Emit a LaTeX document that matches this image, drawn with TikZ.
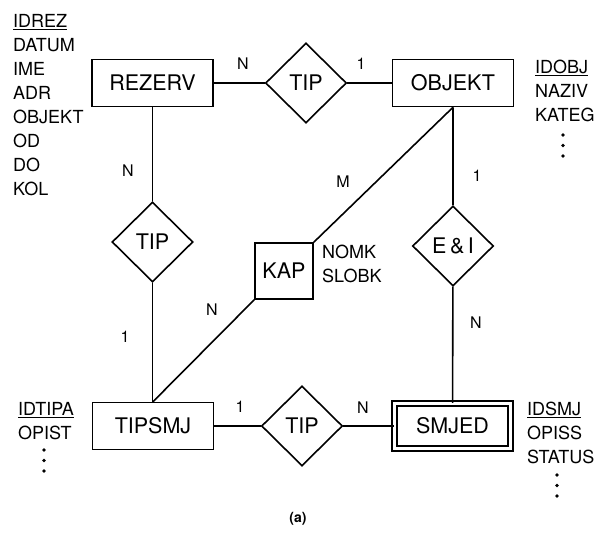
\documentclass[tikz,border=0pt]{standalone}
\usepackage{fontspec}
\setmainfont{TeX Gyre Heros}
\usetikzlibrary{shapes.geometric,positioning}

\tikzset{
  entity/.style  ={draw, line width=1.6pt, minimum width=121pt, minimum height=47pt,
                   inner sep=0pt, font=\fontsize{21.5}{24}\selectfont},
  weak/.style    ={entity, double, double distance=3.4pt, line width=1.4pt,
                   minimum width=116pt, minimum height=45pt},
  rel/.style     ={draw, diamond, line width=1.6pt, minimum width=81pt, minimum height=80pt,
                   inner sep=0pt, font=\fontsize{21.5}{24}\selectfont},
  attr/.style    ={anchor=north west, align=left, inner sep=0pt,
                   font=\fontsize{18}{24}\selectfont},
  dot/.style     ={circle, fill, inner sep=0pt, minimum size=3.6pt},
  card/.style    ={inner sep=0pt, font=\fontsize{16}{16}\selectfont},
  link/.style    ={line width=1.6pt},
}

\begin{document}
\begin{tikzpicture}[x=1pt, y=-1pt]
\useasboundingbox (0,0) rectangle (605,535);

% ---- entities ----
\node[entity] (rezerv) at (152.5,83) {REZERV};
\node[entity] (objekt) at (453,83) {OBJEKT};
\node[entity] (tipsmj) at (153,426) {TIPSMJ};
\node[weak]   (smjed)  at (452.5,426) {SMJED};
\node[entity, minimum width=58pt, minimum height=56pt] (kap) at (284,271) {KAP};

% ---- relationships ----
\node[rel] (tiptop) at (306,83) {TIP};
\node[rel] (tipleft) at (152.5,242) {TIP};
\node[rel] (ei) at (453,246) {E\,\&\,I};
\node[rel] (tipbot) at (302,426) {TIP};

\draw[link] (rezerv) -- (tiptop) -- (objekt);
\draw[link] (rezerv) -- (tipleft) -- (tipleft |- tipsmj.north);
\draw[link] (objekt) -- (ei) -- (smjed);
\draw[link] (tipsmj) -- (tipbot) -- (smjed);
\draw[link] (objekt.south) -- (kap.north east);
\draw[link] (kap.south west) -- (tipsmj.north);

% ---- cardinalities ----
\node[card] (cRT)  at (243,64)  {N};
\node[card] (cTO)  at (361,64)  {1};
\node[card] (cRL)  at (128,171) {N};
\node[card] (cLT)  at (125,337) {1};
\node[card] (cOK)  at (343,182) {M};
\node[card] (cOE)  at (477,176) {1};
\node[card] (cKT)  at (212,310) {N};
\node[card] (cES)  at (476,323) {N};
\node[card] (cTB)  at (240,407) {1};
\node[card] (cBS)  at (363,408) {N};

% ---- attributes ----
\node[attr] (rezattr) at (13,14)
  {\underline{IDREZ}\\DATUM\\IME\\ADR\\OBJEKT\\OD\\DO\\KOL};
\node[attr] (objattr) at (535,60) {\underline{IDOBJ}\\NAZIV\\KATEG};
\node[attr] (kapattr) at (322,245) {NOMK\\SLOBK};
\node[attr] (tipattr) at (18,402) {\underline{IDTIPA}\\OPIST};
\node[attr] (smjattr) at (527,402) {\underline{IDSMJ}\\OPISS\\STATUS};

% more attributes follow
\foreach \x/\y/\n in {563/135/obj, 44/450/tip, 557/475/smj}
  \foreach \k in {0,1,2}
    \node[dot] (\n dot\k) at (\x,{\y+\k*10.5}) {};

\node[font=\fontsize{14}{14}\selectfont\bfseries] (caption) at (298,519) {(a)};

\end{tikzpicture}
\end{document}
